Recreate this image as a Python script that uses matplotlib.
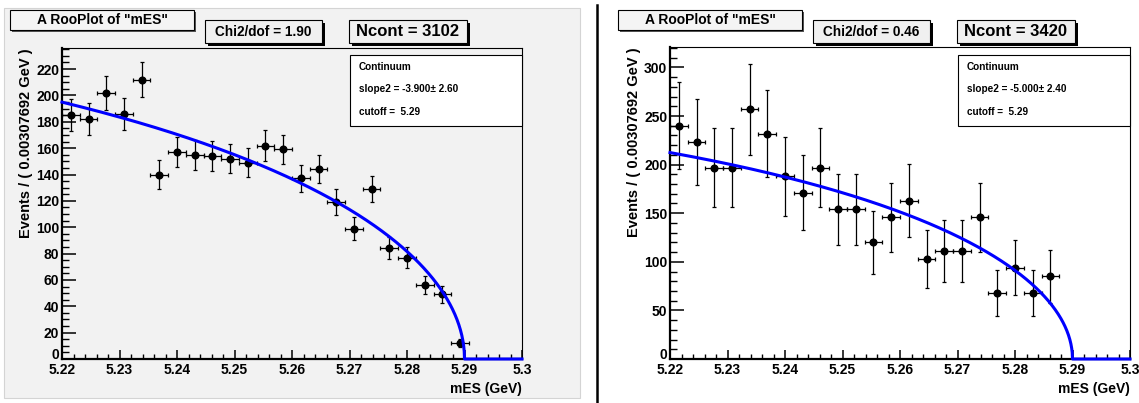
import numpy as np
import matplotlib
matplotlib.use("Agg")
import matplotlib.pyplot as plt
from matplotlib.patches import Rectangle
from matplotlib.lines import Line2D
from matplotlib.ticker import MultipleLocator, FuncFormatter

W, H = 1139, 403

plt.rcParams['font.family'] = ['Liberation Sans', 'DejaVu Sans']
plt.rcParams['font.weight'] = 'bold'
plt.rcParams['axes.labelweight'] = 'bold'

# binning of the mES histogram
X_LO, X_HI = 5.22, 5.30
BIN_WIDTH = 0.00307692

# left plot
counts_left = [185, 182, 202, 186, 212, 140, 157, 155, 154, 152, 149, 162, 159,
               137, 144, 119, 99, 129, 84, 77, 56, 49, 12]
errors_left = [12.3, 12.1, 12.8, 12.3, 13.1, 10.7, 11.3, 11.2, 11.2, 11.1, 11.0, 11.5, 11.3,
               10.5, 10.8, 9.8, 9.0, 10.2, 8.3, 7.9, 6.7, 6.3, 3.2]
slope_left, slope_err_left = -3.900, 2.60
chi2_left = 1.90
ncont_left = 3102

# right plot
counts_right = [240, 223, 197, 197, 257, 232, 188, 171, 197, 154, 154, 120, 146,
                163, 103, 111, 111, 146, 68, 94, 68, 85]
errors_right = [45, 44, 41, 41, 47, 44.5, 40.5, 38.5, 41, 36.5, 36.5, 32.5, 35.5,
                37.5, 30, 31.5, 31.5, 35.5, 24, 28.5, 24, 27.5]
slope_right, slope_err_right = -5.000, 2.40
chi2_right = 0.46
ncont_right = 3420

cutoff = 5.29


def px(x, y):
    return x / W, 1 - y / H


def argus(x, m0, c):
    t = 1 - (x / m0) ** 2
    return np.where(t > 0, x * np.sqrt(np.clip(t, 0, None)) * np.exp(c * t), 0.0)


def box(fig, x0, y0, x1, y1, face, edge='black', lw=0.8, shadow=None, off=3, z=5):
    if shadow is not None:
        sx, sy = px(x0 + off, y1 + off)
        fig.add_artist(Rectangle((sx, sy), (x1 - x0) / W, (y1 - y0) / H,
                                 transform=fig.transFigure, facecolor=shadow,
                                 edgecolor='none', zorder=z))
    bx, by = px(x0, y1)
    fig.add_artist(Rectangle((bx, by), (x1 - x0) / W, (y1 - y0) / H,
                             transform=fig.transFigure, facecolor=face,
                             edgecolor=edge, lw=lw, zorder=z + 0.1))


def draw_panel(fig, ax, dx, counts, errors, slope, slope_err, chi2, ncont,
               ymax, ymaj, ymin):
    centers = X_LO + (np.arange(len(counts)) + 0.5) * BIN_WIDTH
    ax.errorbar(centers, counts, xerr=BIN_WIDTH / 2, yerr=errors, fmt='o',
                color='black', ms=4.8, elinewidth=0.9, capsize=1.3, capthick=0.9)

    xs = np.concatenate([np.linspace(X_LO, cutoff, 1500), [X_HI]])
    xi = np.linspace(X_LO, cutoff, 4000)
    norm = ncont * BIN_WIDTH / np.trapezoid(argus(xi, cutoff, slope), xi)
    ax.plot(xs, norm * argus(xs, cutoff, slope), color='#0000ff', lw=2.2,
            zorder=3, clip_on=False)

    ax.set_xlim(X_LO, X_HI)
    ax.set_ylim(0, ymax)
    ax.xaxis.set_major_locator(MultipleLocator(0.01))
    ax.xaxis.set_minor_locator(MultipleLocator(0.002))
    ax.xaxis.set_major_formatter(FuncFormatter(lambda v, p: f'{v:g}'))
    ax.yaxis.set_major_locator(MultipleLocator(ymaj))
    ax.yaxis.set_minor_locator(MultipleLocator(ymin))
    ax.tick_params(axis='x', which='major', direction='in', length=6.5, width=1.1,
                   labelsize=10, pad=3)
    ax.tick_params(axis='x', which='minor', direction='in', length=3.3, width=1.0)
    ax.tick_params(axis='y', which='major', direction='in', length=10, width=1.1,
                   labelsize=10, pad=2)
    ax.tick_params(axis='y', which='minor', direction='in', length=5, width=1.0)
    for s in ['bottom', 'left']:
        ax.spines[s].set_linewidth(1.6)
    for s in ['top', 'right']:
        ax.spines[s].set_linewidth(0.8)
    plt.setp(ax.get_xticklabels() + ax.get_yticklabels(), fontweight='bold')
    # ROOT lifts the "0" label a little above the x axis
    locs = list(ax.get_yticks())
    ticks = ax.yaxis.get_major_ticks(len(locs))
    for loc, tk in zip(locs, ticks):
        if abs(loc) < 1e-9:
            tk.label1.set_verticalalignment('baseline')

    ax.set_xlabel('mES (GeV)', fontsize=10, loc='right')
    ax.xaxis.set_label_coords(1.0, -0.074)
    ax.set_ylabel('Events / ( 0.00307692 GeV )', fontsize=10.5, loc='top')
    ax.yaxis.set_label_coords(-0.064, 1.0)

    # title box
    box(fig, 10 + dx, 10, 194 + dx, 30, '#f4f4f4', shadow='#555555', off=2)
    fig.text(*px(102 + dx, 20.5), 'A RooPlot of "mES"', ha='center', va='center',
             fontsize=10, zorder=6)
    # chi2 box
    box(fig, 205 + dx, 20, 322 + dx, 43, '#f0f0f0', shadow='black', off=3)
    fig.text(*px(263.5 + dx, 31.5), f'Chi2/dof = {chi2:.2f}', ha='center',
             va='center', fontsize=9.8, zorder=6)
    # ncont box
    box(fig, 349 + dx, 20, 467 + dx, 43, '#f0f0f0', shadow='black', off=3)
    fig.text(*px(408 + dx, 31.5), f'Ncont = {ncont}', ha='center', va='center',
             fontsize=12, zorder=6)
    # parameter box
    box(fig, 350 + dx, 55, 522 + dx, 126, 'white')
    lines = ['Continuum', f'slope2 = {slope:.3f}\u00b1 {slope_err:.2f}',
             f'cutoff =  {cutoff:.2f}']
    for yy, t in zip([67, 89, 112], lines):
        fig.text(*px(359 + dx, yy), t, ha='left', va='center', fontsize=7.2, zorder=6)


fig = plt.figure(figsize=(W / 100, H / 100), dpi=100)
fig.patch.set_facecolor('white')

# grey pad behind the left plot
x0, y0 = px(4, 398)
fig.add_artist(Rectangle((x0, y0), 576 / W, 390 / H, transform=fig.transFigure,
                         facecolor='#f2f2f2', edgecolor='#d4d4d4', lw=0.8, zorder=-1))

ax1 = fig.add_axes([62 / W, 1 - 359 / H, 460 / W, 311 / H])
ax1.set_facecolor('#f2f2f2')
draw_panel(fig, ax1, 0, counts_left, errors_left, slope_left, slope_err_left,
           chi2_left, ncont_left, 236, 20, 5)

ax2 = fig.add_axes([670 / W, 1 - 359 / H, 460 / W, 312 / H])
ax2.set_facecolor('white')
draw_panel(fig, ax2, 608, counts_right, errors_right, slope_right, slope_err_right,
           chi2_right, ncont_right, 321, 50, 10)

# divider between the two canvases
fig.add_artist(Line2D([596.5 / W, 596.5 / W], [1 - 5 / H, 0], color='black', lw=1.8))

fig.savefig('out.png', dpi=100)
